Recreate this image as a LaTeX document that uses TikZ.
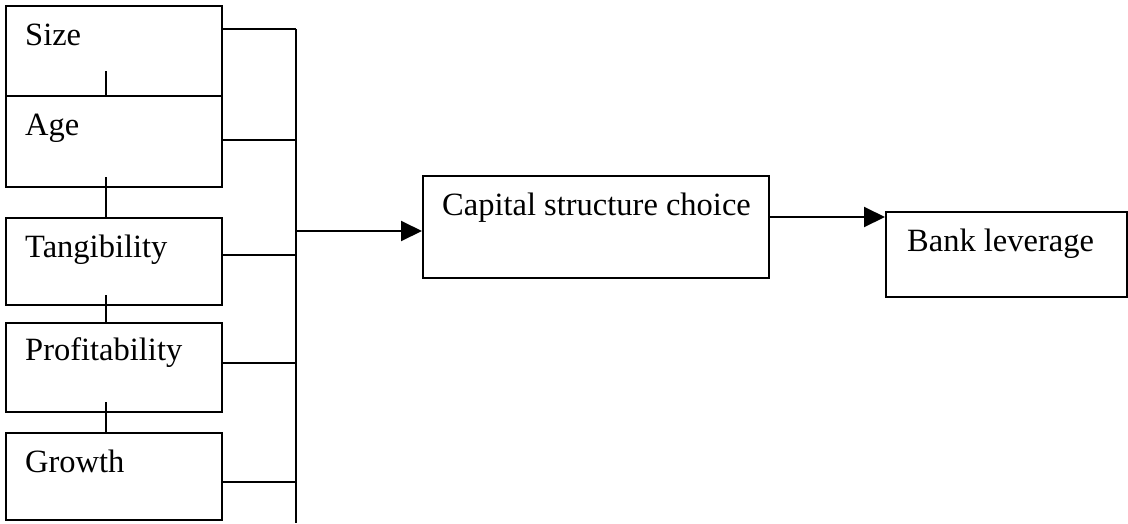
\documentclass[tikz,border=0pt]{standalone}
\usepackage{fontspec}
\setmainfont{Liberation Serif}
\usetikzlibrary{arrows.meta}
\begin{document}
\begin{tikzpicture}[x=1pt,y=-1pt,
  box/.style={draw,line width=2pt,minimum width=#1,inner sep=0pt,anchor=north west},
  lbl/.style={anchor=base west,inner sep=0pt,font=\fontsize{32.5}{37}\selectfont},
  wire/.style={line width=2pt},
  flow/.style={line width=2pt,-{Triangle[length=21pt,width=20pt]}}]
\useasboundingbox (0,0) rectangle (1128,523);

% factor boxes (left column)
\node[box=216pt,minimum height=90pt]  (size)   at (5,5)   {};
\node[box=216pt,minimum height=91pt]  (age)    at (5,95)  {};
\node[box=216pt,minimum height=87pt]  (tang)   at (5,217) {};
\node[box=216pt,minimum height=89pt]  (prof)   at (5,322) {};
\node[box=216pt,minimum height=87pt]  (growth) at (5,432) {};

\node[lbl] (tsize)   at (25,45)  {Size};
\node[lbl] (tage)    at (25,135) {Age};
\node[lbl] (ttang)   at (25,257) {Tangibility};
\node[lbl] (tprof)   at (25,360) {Profitability};
\node[lbl] (tgrowth) at (25,472) {Growth};

% outcome boxes
\node[box=346pt,minimum height=102pt] (cap)  at (422,175) {};
\node[box=241pt,minimum height=85pt]  (bank) at (885,211) {};
\node[lbl] (tcap)  at (442,215) {Capital structure choice};
\node[lbl] (tbank) at (907,251) {Bank leverage};

% stubs linking the column
\begin{scope}[wire]
\draw ([shift={(-8pt,26pt)}]size.south) -- ([xshift=-8pt]size.south);
\draw ([shift={(-8pt,11pt)}]age.south)  -- ([xshift=-8pt]tang.north);
\draw ([shift={(-8pt,11pt)}]tang.south) -- ([xshift=-8pt]prof.north);
\draw ([shift={(-8pt,11pt)}]prof.south) -- ([xshift=-8pt]growth.north);
\end{scope}

% collecting bus
\coordinate (bustop) at (296,29);
\coordinate (busbot) at (296,523);
\coordinate (busout) at (296,231);
\draw[wire] (bustop) -- (busbot);
\draw[wire] (size.east |- bustop) -- (bustop);
\draw[wire] (age.east |- 0,140)   -- (bustop |- 0,140);
\draw[wire] (tang.east |- 0,255)  -- (bustop |- 0,255);
\draw[wire] (prof.east |- 0,363)  -- (bustop |- 0,363);
\draw[wire] (growth.east |- 0,482) -- (bustop |- 0,482);

% flow arrows
\draw[flow] (busout) -- (cap.west |- busout);
\draw[flow] (cap.east |- 0,217) -- (bank.west |- 0,217);
\end{tikzpicture}
\end{document}
